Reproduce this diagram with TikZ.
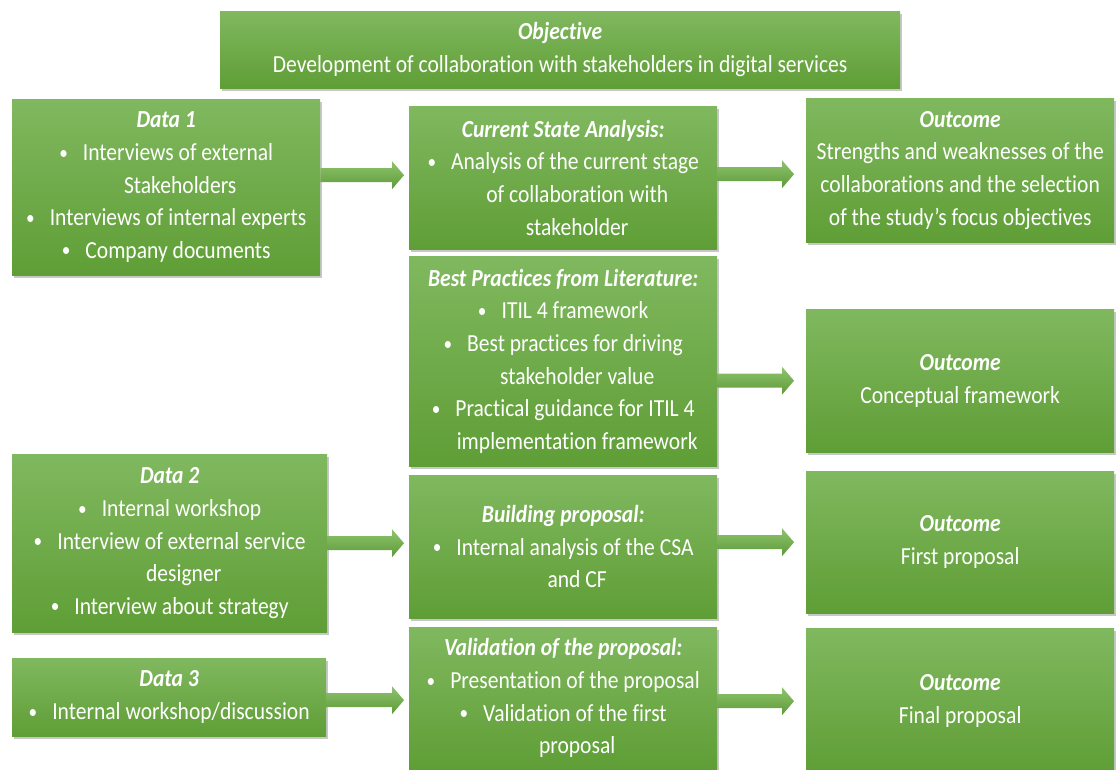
\documentclass[tikz,border=0pt]{standalone}
\usepackage{fontspec}
\setmainfont{Carlito}[FakeStretch=0.88, Ligatures=NoCommon]
\usetikzlibrary{shadows,calc}

\definecolor{gTop}{HTML}{80B85F}
\definecolor{gMid}{HTML}{70AD47}
\definecolor{gBot}{HTML}{5F9E36}
\definecolor{aTop}{HTML}{8FC46E}
\definecolor{aBot}{HTML}{5E9A38}

\newcommand\boxhead[1]{\textbf{\textit{#1}}}
\newcommand\itembul{\raisebox{0.12ex}{\scalebox{0.8}{\textbullet}}\hspace{15pt}}
\newcommand\hang{\hspace*{28pt}}

% block arrow from the east side of #3 to the west side of #4,
% moved up by #1, its tip #2 short of the target
\newcommand\flowarrow[4]{%
  \shade[top color=aTop, bottom color=aBot]
    let \p1=(#3.east), \p2=(#4.west) in
    ({\x1},{\y2+#1+7pt}) -- ({\x2-#2-12pt},{\y2+#1+7pt}) --
    ({\x2-#2-12pt},{\y2+#1+14pt}) -- ({\x2-#2},{\y2+#1}) --
    ({\x2-#2-12pt},{\y2+#1-14pt}) -- ({\x2-#2-12pt},{\y2+#1-7pt}) --
    ({\x1},{\y2+#1-7pt}) -- cycle;}

\tikzset{
  greenbox/.style={anchor=north west, inner sep=0pt, align=center,
    text=white, font=\fontsize{24.5}{32.6}\selectfont,
    top color=gTop, middle color=gMid, bottom color=gBot,
    drop shadow={shadow xshift=1.5pt, shadow yshift=-2.5pt,
      fill=black, opacity=0.22}},
}

\begin{document}
\begin{tikzpicture}[x=1pt, y=-1pt]
\useasboundingbox (0,0) rectangle (1116,769);
\clip (0,0) rectangle (1116,769);

\node[greenbox, minimum width=680pt, minimum height=77pt] (obj) at (220,11)
  {\boxhead{Objective}\\Development of collaboration with stakeholders in digital services};

\node[greenbox, minimum width=308pt, minimum height=176pt] (d1) at (12,99)
  {\boxhead{Data 1}\\ \itembul Interviews of external\\ \hang Stakeholders\\
   \itembul Interviews of internal experts\\ \itembul Company documents};

\node[greenbox, minimum width=308pt, minimum height=143pt] (csa) at (409,106)
  {\boxhead{Current State Analysis:}\\ \itembul Analysis of the current stage\\
   \hang of collaboration with\\ \hang stakeholder};

\node[greenbox, minimum width=308pt, minimum height=144pt] (o1) at (806,98)
  {\boxhead{Outcome}\\Strengths and weaknesses of the\\collaborations and the selection\\of the study’s focus objectives};

\node[greenbox, minimum width=308pt, minimum height=210pt] (bp) at (409,256)
  {\boxhead{Best Practices from Literature:}\\ \itembul ITIL 4 framework\\
   \itembul Best practices for driving\\ \hang stakeholder value\\
   \itembul Practical guidance for ITIL 4\\ \hang implementation framework};

\node[greenbox, minimum width=308pt, minimum height=143pt] (o2) at (806,309)
  {\boxhead{Outcome}\\Conceptual framework};

\node[greenbox, minimum width=315pt, minimum height=178pt] (d2) at (12,454)
  {\boxhead{Data 2}\\ \itembul Internal workshop\\ \itembul Interview of external service\\
   \hang designer\\ \itembul Interview about strategy};

\node[greenbox, minimum width=308pt, minimum height=143pt] (bld) at (409,475)
  {\boxhead{Building proposal:}\\ \itembul Internal analysis of the CSA\\ \hang and CF};

\node[greenbox, minimum width=308pt, minimum height=142pt] (o3) at (806,471)
  {\boxhead{Outcome}\\First proposal};

\node[greenbox, minimum width=314pt, minimum height=78pt] (d3) at (12,658)
  {\boxhead{Data 3}\\ \itembul Internal workshop/discussion};

\node[greenbox, minimum width=308pt, minimum height=142pt] (val) at (409,627)
  {\boxhead{Validation of the proposal:}\\ \itembul Presentation of the proposal\\
   \itembul Validation of the first\\ \hang proposal};

\node[greenbox, minimum width=308pt, minimum height=146pt] (o4) at (806,628)
  {\boxhead{Outcome}\\Final proposal};

\flowarrow{2.5pt}{5pt}{d1}{csa}
\flowarrow{-4pt}{12pt}{csa}{o1}
\flowarrow{0pt}{12pt}{bp}{o2}
\flowarrow{3.5pt}{5pt}{d2}{bld}
\flowarrow{0pt}{12pt}{bld}{o3}
\flowarrow{-2pt}{5pt}{d3}{val}
\flowarrow{0pt}{12pt}{val}{o4}
\end{tikzpicture}
\end{document}
